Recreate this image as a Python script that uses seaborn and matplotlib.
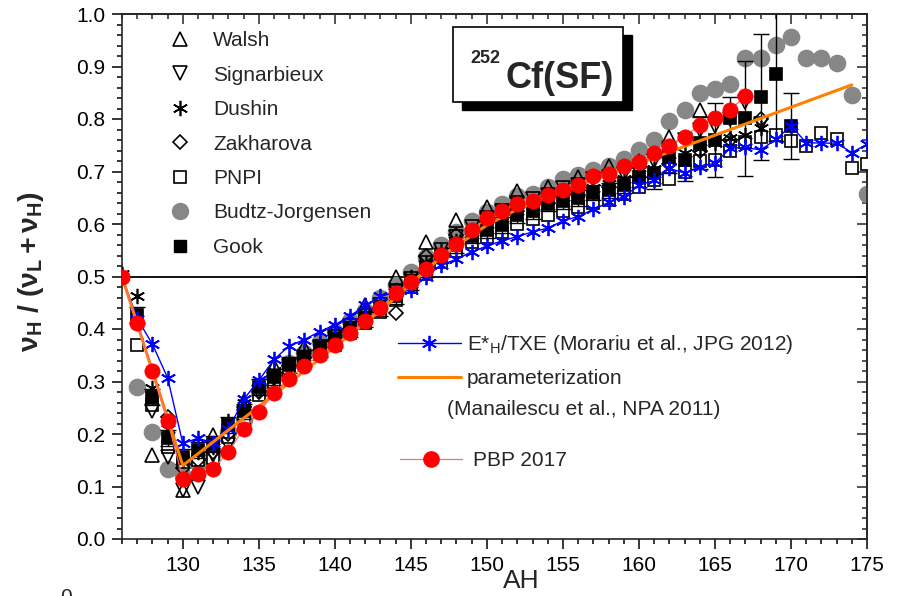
import numpy as np
import pandas as pd
import matplotlib
matplotlib.use('Agg')
import matplotlib.pyplot as plt
import seaborn as sns
from matplotlib.lines import Line2D
from matplotlib.patches import Rectangle
from matplotlib.ticker import MultipleLocator

# ---------------- data ----------------
pbp_A = list(range(126, 168))
pbp_v = [0.499, 0.411, 0.320, 0.225, 0.115, 0.124, 0.133, 0.166, 0.210, 0.241,
         0.278, 0.305, 0.330, 0.350, 0.370, 0.392, 0.415, 0.440, 0.468, 0.490,
         0.514, 0.541, 0.561, 0.588, 0.611, 0.625, 0.638, 0.644, 0.655, 0.664,
         0.675, 0.691, 0.696, 0.710, 0.719, 0.735, 0.749, 0.766, 0.789, 0.801,
         0.818, 0.843]

txe_A = list(range(126, 176))
txe_v = [0.500, 0.420, 0.371, 0.307, 0.182, 0.192, 0.183, 0.209, 0.266, 0.302,
         0.342, 0.368, 0.380, 0.395, 0.408, 0.425, 0.445, 0.462, 0.470, 0.474,
         0.500, 0.522, 0.533, 0.547, 0.558, 0.568, 0.576, 0.585, 0.592, 0.606,
         0.614, 0.628, 0.641, 0.652, 0.674, 0.683, 0.706, 0.697, 0.709, 0.716,
         0.744, 0.746, 0.741, 0.761, 0.787, 0.755, 0.754, 0.754, 0.736, 0.752]

par_A = [126, 130, 138, 143, 145, 146, 147, 148, 150, 152, 154, 174]
par_v = [0.500, 0.140, 0.320, 0.435, 0.485, 0.512, 0.537, 0.558, 0.598, 0.628, 0.652, 0.865]

bj_A = list(range(127, 176))
bj_v = [0.289, 0.204, 0.133, 0.120, 0.144, 0.163, 0.203, 0.227, 0.281, 0.310,
        0.335, 0.355, 0.375, 0.395, 0.415, 0.435, 0.460, 0.484, 0.509, 0.538,
        0.560, 0.585, 0.606, 0.623, 0.639, 0.653, 0.658, 0.670, 0.685, 0.694,
        0.702, 0.711, 0.724, 0.741, 0.760, 0.797, 0.817, 0.850, 0.858, 0.867,
        0.916, 0.917, 0.941, 0.957, 0.917, 0.917, 0.907, 0.846, 0.657]

gook_A = list(range(127, 171))
gook_v = [0.427, 0.271, 0.192, 0.157, 0.170, 0.181, 0.217, 0.243, 0.290, 0.309,
          0.331, 0.345, 0.362, 0.380, 0.400, 0.418, 0.440, 0.462, 0.490, 0.515,
          0.540, 0.560, 0.578, 0.589, 0.598, 0.617, 0.624, 0.639, 0.644, 0.650,
          0.660, 0.664, 0.674, 0.690, 0.697, 0.728, 0.722, 0.754, 0.760, 0.801,
          0.801, 0.841, 0.885, 0.787]
gook_err = [0.015] * 33 + [0.02, 0.03, 0.03, 0.04, 0.05, 0.07, 0.04, 0.11, 0.12, 0.127, 0.063]

pnpi_A = list(range(127, 176))
pnpi_v = [0.370, 0.255, 0.176, 0.147, 0.150, 0.155, 0.195, 0.230, 0.275, 0.300,
          0.320, 0.335, 0.352, 0.370, 0.392, 0.412, 0.432, 0.455, 0.480, 0.505,
          0.528, 0.548, 0.565, 0.575, 0.585, 0.600, 0.610, 0.618, 0.625, 0.632,
          0.640, 0.645, 0.658, 0.670, 0.684, 0.685, 0.700, 0.720, 0.722, 0.740,
          0.757, 0.765, 0.770, 0.759, 0.749, 0.773, 0.762, 0.707, 0.714]

walsh_A = [128, 130, 132, 134, 136, 138, 140, 142, 144, 146, 148, 150, 152, 154,
           156, 158, 160, 162, 164]
walsh_v = [0.160, 0.093, 0.198, 0.262, 0.330, 0.365, 0.400, 0.445, 0.500, 0.565,
           0.608, 0.633, 0.662, 0.670, 0.690, 0.710, 0.720, 0.765, 0.817]

sig_A = list(range(128, 169))
sig_v = [0.243, 0.157, 0.093, 0.100, 0.160, 0.180, 0.240, 0.280, 0.305, 0.330,
         0.345, 0.365, 0.385, 0.405, 0.425, 0.445, 0.470, 0.495, 0.525, 0.550,
         0.575, 0.595, 0.612, 0.625, 0.640, 0.648, 0.655, 0.668, 0.675, 0.685,
         0.690, 0.695, 0.700, 0.720, 0.735, 0.760, 0.779, 0.787, 0.800, 0.833,
         0.790]

dush_A = list(range(126, 169))
dush_v = [0.505, 0.462, 0.287, 0.210, 0.150, 0.165, 0.175, 0.225, 0.260, 0.290,
          0.320, 0.340, 0.355, 0.372, 0.390, 0.410, 0.430, 0.450, 0.475, 0.500,
          0.525, 0.548, 0.568, 0.585, 0.600, 0.612, 0.625, 0.635, 0.645, 0.652,
          0.660, 0.668, 0.676, 0.685, 0.695, 0.705, 0.720, 0.735, 0.745, 0.755,
          0.763, 0.770, 0.782]

zak_A = [129, 130, 131, 132, 133, 134, 135, 136, 137, 138, 139, 140, 141, 142,
         143, 144, 146, 148, 150, 152, 154, 156, 158, 160, 162, 164, 166, 168]
zak_v = [0.232, 0.135, 0.150, 0.165, 0.200, 0.245, 0.280, 0.310, 0.330, 0.345,
         0.360, 0.380, 0.400, 0.420, 0.440, 0.430, 0.540, 0.580, 0.605, 0.625,
         0.640, 0.655, 0.670, 0.690, 0.715, 0.740, 0.760, 0.800]

x_ticks = [130, 135, 140, 145, 150, 155, 160, 165, 170, 175]
y_ticks = [0.0, 0.1, 0.2, 0.3, 0.4, 0.5, 0.6, 0.7, 0.8, 0.9, 1.0]

# ---------------- style ----------------
sns.set_theme(style='ticks')
plt.rcParams['font.family'] = ['Liberation Sans', 'DejaVu Sans']
plt.rcParams['mathtext.fontset'] = 'custom'
plt.rcParams['mathtext.rm'] = 'Liberation Sans'
plt.rcParams['mathtext.it'] = 'Liberation Sans:italic'
plt.rcParams['mathtext.bf'] = 'Liberation Sans:bold'

fig = plt.figure(figsize=(9.01, 5.96), dpi=100)
ax = fig.add_axes([122 / 901, 57 / 596, 745 / 901, 525 / 596])

GRAY = '#878787'
AST = (6, 2, 0)


def pts(A, v, marker, ms, mfc, mec, z, mew=1.2):
    sns.lineplot(x=A, y=v, marker=marker, linestyle='', ms=ms, mfc=mfc, mec=mec,
                 mew=mew, ax=ax, zorder=z, errorbar=None, legend=False)


ax.axhline(0.5, color='black', lw=1.3, zorder=1)

pts(bj_A, bj_v, 'o', 11.5, GRAY, GRAY, 2)
pts(pnpi_A, pnpi_v, 's', 9, 'white', 'black', 3)
pts(walsh_A, walsh_v, '^', 10, 'none', 'black', 3)
pts(sig_A, sig_v, 'v', 10, 'none', 'black', 3)
pts(zak_A, zak_v, 'D', 7.5, 'none', 'black', 3)
pts(dush_A, dush_v, AST, 11, 'black', 'black', 3)
ax.errorbar(gook_A, gook_v, yerr=gook_err, fmt='none', ecolor='black',
            elinewidth=1.0, capsize=6, capthick=1.0, zorder=3.5)
pts(gook_A, gook_v, 's', 9, 'black', 'black', 4)

sns.lineplot(x=txe_A, y=txe_v, color='#0000ff', lw=1.0, marker=AST, ms=11,
             mec='#0000ff', mew=1.3, ax=ax, zorder=5, errorbar=None, legend=False)
sns.lineplot(x=par_A, y=par_v, color='#ff8000', lw=2.2, ax=ax, zorder=6,
             errorbar=None, legend=False)
sns.lineplot(x=pbp_A, y=pbp_v, color='#ff6a6a', lw=0.9, marker='o', ms=11,
             mfc='#ff0000', mec='#ff0000', mew=0.5, ax=ax, zorder=7,
             errorbar=None, legend=False)

# ---------------- axes ----------------
ax.set_xlim(126, 175)
ax.set_ylim(0, 1)
ax.set_xticks(x_ticks)
ax.set_yticks(y_ticks)
ax.set_yticklabels([f'{t:.1f}' for t in y_ticks])
ax.xaxis.set_minor_locator(MultipleLocator(1))
ax.yaxis.set_minor_locator(MultipleLocator(0.02))
for s in ax.spines.values():
    s.set_linewidth(1.2)
    s.set_visible(True)
ax.tick_params(which='both', direction='out', width=1.1, labelsize=15, colors='black')
ax.tick_params(which='major', length=7, pad=5)
ax.tick_params(which='minor', length=3.5)

secx = ax.secondary_xaxis('top')
secx.set_xticks(x_ticks)
secx.xaxis.set_minor_locator(MultipleLocator(1))
secx.tick_params(which='both', direction='in', labeltop=False, width=1.1)
secx.tick_params(which='major', length=7)
secx.tick_params(which='minor', length=3.5)
secy = ax.secondary_yaxis('right')
secy.set_yticks(y_ticks)
secy.yaxis.set_minor_locator(MultipleLocator(0.02))
secy.tick_params(which='both', direction='in', labelright=False, width=1.1)
secy.tick_params(which='major', length=7)
secy.tick_params(which='minor', length=3.5)

ax.set_xlabel('AH', fontsize=19)
ax.xaxis.set_label_coords(0.5356, -0.057)
ax.set_ylabel(r'$\mathbf{\nu_H\ /\ (\nu_L + \nu_H)}$', fontsize=20.5)
ax.yaxis.set_label_coords(-0.102, 0.51)

# ---------------- legends ----------------
h1 = [
    Line2D([], [], ls='', marker='^', ms=10, mfc='none', mec='black', mew=1.2),
    Line2D([], [], ls='', marker='v', ms=10, mfc='none', mec='black', mew=1.2),
    Line2D([], [], ls='', marker=AST, ms=11, mfc='black', mec='black', mew=1.2),
    Line2D([], [], ls='', marker='D', ms=7.5, mfc='none', mec='black', mew=1.2),
    Line2D([], [], ls='', marker='s', ms=9, mfc='white', mec='black', mew=1.2),
    Line2D([], [], ls='', marker='o', ms=11.5, mfc=GRAY, mec=GRAY),
    Line2D([], [], ls='', marker='s', ms=9, mfc='black', mec='black'),
]
l1 = ['Walsh', 'Signarbieux', 'Dushin', 'Zakharova', 'PNPI', 'Budtz-Jorgensen', 'Gook']
leg1 = ax.legend(h1, l1, loc='upper left', bbox_to_anchor=(0.0639, 0.967),
                 frameon=False, fontsize=15, handlelength=1.0, handletextpad=1.1,
                 labelspacing=0.74, borderpad=0, borderaxespad=0)
ax.add_artist(leg1)

h2 = [Line2D([], [], color='#0000ff', lw=1.0, marker=AST, ms=11, mec='#0000ff', mew=1.3),
      Line2D([], [], color='#ff8000', lw=2.2)]
l2 = [r'E*$_\mathregular{H}$/TXE (Morariu et al., JPG 2012)', 'parameterization']
leg2 = ax.legend(h2, l2, loc='upper left', bbox_to_anchor=(0.3705, 0.392),
                 frameon=False, fontsize=15, handlelength=3.0, handletextpad=0.3,
                 labelspacing=0.62, borderpad=0, borderaxespad=0)
ax.add_artist(leg2)
ax.text(0.4362, 0.2476, '(Manailescu et al., NPA 2011)', transform=ax.transAxes,
        fontsize=15, va='center', ha='left')

h3 = [Line2D([], [], color='#ff6a6a', lw=0.9, marker='o', ms=11, mfc='#ff0000', mec='#ff0000')]
leg3 = ax.legend(h3, ['PBP 2017'], loc='upper left', bbox_to_anchor=(0.373, 0.167),
                 frameon=False, fontsize=15, handlelength=3.0, handletextpad=0.5,
                 borderpad=0, borderaxespad=0)

# ---------------- title box ----------------
bx, by, bw, bh = 0.4443, 0.8324, 0.2282, 0.1428
ax.add_patch(Rectangle((bx + 0.0121, by - 0.0152), bw, bh, transform=ax.transAxes,
                       facecolor='black', edgecolor='black', zorder=8))
ax.add_patch(Rectangle((bx, by), bw, bh, transform=ax.transAxes,
                       facecolor='white', edgecolor='black', lw=1.2, zorder=9))
ax.text(0.4671, 0.9067, '252', transform=ax.transAxes, fontsize=13,
        fontweight='bold', ha='left', va='baseline', zorder=10)
ax.text(0.5141, 0.859, 'Cf(SF)', transform=ax.transAxes, fontsize=26,
        fontweight='bold', ha='left', va='baseline', zorder=10)

fig.text(66 / 901, 1 - 588 / 596, '0', ha='center', va='top', fontsize=15)

fig.savefig('out.png', dpi=100)
